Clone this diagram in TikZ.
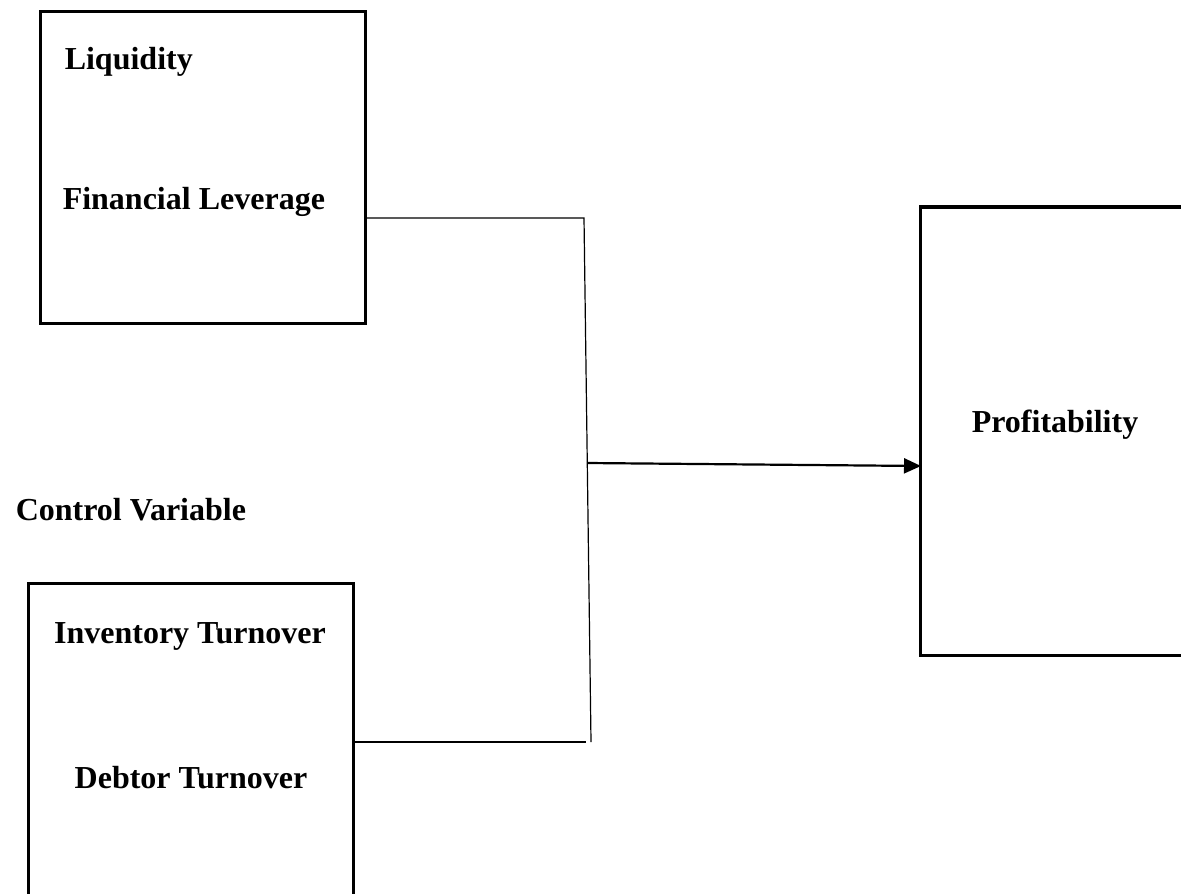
\documentclass[tikz,border=0pt]{standalone}
\usepackage{fontspec}
\setmainfont{Liberation Serif}
\usepackage{tikz}
\usetikzlibrary{
  positioning,
  arrows.meta
}
\tikzset{every picture/.style={line width=0.75pt}}

\begin{document}
\begin{tikzpicture}[x=0.5pt, y=-0.5pt,
  varbox/.style={draw, line width=1.5pt, inner sep=0pt},
  label/.style={font=\fontsize{16}{19}\selectfont\bfseries, inner sep=0pt},
  link/.style={line width=0.6pt},
  flow/.style={line width=1.1pt, -{Triangle[length=8.5pt, width=7.5pt]}}]
\useasboundingbox (0,0) rectangle (1181,893);
\clip (0,0) rectangle (1181,893);

% Independent variables
\node[varbox, minimum width=162.5pt, minimum height=155.5pt] (indep) at (202.5,167.5) {};
\node[label, anchor=west] (liq) at (64,62) {Liquidity};
\node[label, anchor=west] (lev) at (62,202) {Financial Leverage};

% Control variables
\node[label, anchor=west] (ctrl) at (15,510) {Control Variable};
\node[varbox, minimum width=162.5pt, minimum height=165pt] (control) at (190.5,748) {};
\node[label] (inv) at (190,636) {Inventory Turnover};
\node[label] (debt) at (191,778) {Debtor Turnover};

% Dependent variable
\node[varbox, minimum width=160pt, minimum height=224pt] (dep) at (1080,431) {};
\node[label] (profit) at (1055,425) {Profitability};

% Connectors
\coordinate (jtop) at (584,218);
\coordinate (jbot) at (591,742);
\coordinate (jend) at (586,742);
\coordinate (jmid) at (587,463);
\coordinate (tip) at (921,466);
\draw[link] (indep.east |- jtop) -- (jtop) -- (jbot);
\draw[link] (control.east |- jend) -- (jend);
\draw[flow] (jmid) -- (tip);
\end{tikzpicture}
\end{document}
